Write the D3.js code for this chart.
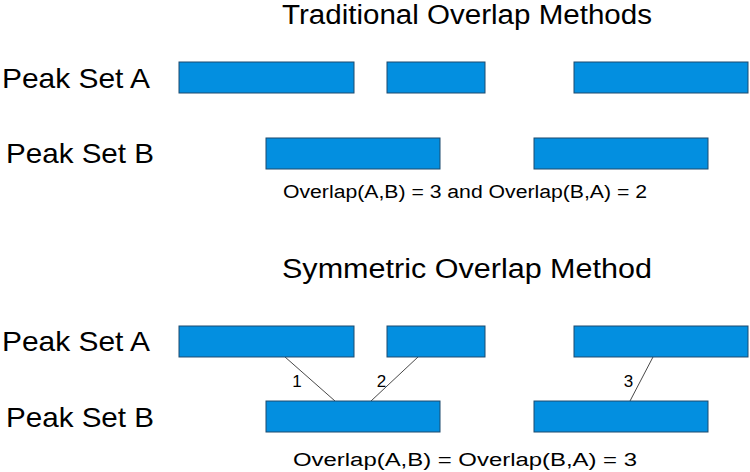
<!DOCTYPE html>
<html>
<head>
<meta charset="utf-8">
<script src="https://cdn.jsdelivr.net/npm/d3@7"></script>
<style>
  body { margin: 0; background: #fff; }
  text { font-family: "Liberation Sans", Arial, sans-serif; fill: #000; }
</style>
</head>
<body>
<div id="chart"></div>
<script>
// peak intervals (arbitrary genomic units)
const peakSetA = [[0, 175], [208, 306], [395, 569]];
const peakSetB = [[87, 261], [355, 529]];
const rowNames = ["Peak Set A", "Peak Set B"];

// symmetric overlap links: position on A bottom edge -> position on B top edge
const links = [
  {label: "1", a: 106, b: 156},
  {label: "2", a: 239, b: 192},
  {label: "3", a: 474, b: 451}
];

const sections = [
  {title: "Traditional Overlap Methods", note: "Overlap(A,B) = 3 and Overlap(B,A) = 2", links: false},
  {title: "Symmetric Overlap Method", note: "Overlap(A,B) = Overlap(B,A) = 3", links: true}
];

const width = 750, height = 472;

let svg = d3.select("#chart")
    .append("svg")
    .attr("width", width)
    .attr("height", height);

let x = d3.scaleLinear()
    .domain([0, 569])
    .range([179, 748]);

const layout = [
  {titleY: 24, rowY: d3.scaleBand().domain(rowNames).range([62, 169]).paddingInner(0.592), noteY: 198},
  {titleY: 278, rowY: d3.scaleBand().domain(rowNames).range([326, 432]).paddingInner(0.587), noteY: 466}
];

function fitText(sel, len) {
  sel.attr("textLength", len).attr("lengthAdjust", "spacingAndGlyphs");
}

sections.forEach(function(sec, i) {
  let L = layout[i];
  let y = L.rowY;
  let g = svg.append("g");

  g.append("text")
      .attr("x", 282).attr("y", L.titleY)
      .style("font-size", "27px")
      .text(sec.title)
      .call(fitText, 370);

  // row labels
  g.selectAll(".rowlabel")
      .data(rowNames)
      .enter()
      .append("text")
      .attr("x", function(d, j) { return j === 0 ? 2 : 6; })
      .attr("y", function(d) { return y(d) + y.bandwidth() / 2 + 10; })
      .style("font-size", "28px")
      .text(function(d) { return d; })
      .call(fitText, 148);

  // links (drawn under bars)
  if (sec.links) {
    let yA = y("Peak Set A") + y.bandwidth();
    let yB = y("Peak Set B");
    g.selectAll(".link")
        .data(links)
        .enter()
        .append("line")
        .attr("x1", function(d) { return x(d.a); })
        .attr("y1", yA)
        .attr("x2", function(d) { return x(d.b); })
        .attr("y2", yB)
        .attr("stroke", "#333")
        .attr("stroke-width", 0.9);
    g.selectAll(".linklabel")
        .data(links)
        .enter()
        .append("text")
        .attr("x", function(d) { return (x(d.a) + x(d.b)) / 2 - 13; })
        .attr("y", (yA + yB) / 2 + 8)
        .attr("text-anchor", "middle")
        .style("font-size", "17px")
        .text(function(d) { return d.label; });
  }

  [peakSetA, peakSetB].forEach(function(set, j) {
    g.selectAll(".bar" + j)
        .data(set)
        .enter()
        .append("rect")
        .attr("x", function(d) { return x(d[0]); })
        .attr("y", y(rowNames[j]))
        .attr("width", function(d) { return x(d[1]) - x(d[0]); })
        .attr("height", y.bandwidth())
        .attr("fill", "#038fe0")
        .attr("stroke", "#1d4a6e")
        .attr("stroke-width", 1);
  });

  g.append("text")
      .attr("x", i === 0 ? 283 : 293).attr("y", L.noteY)
      .style("font-size", "18px")
      .text(sec.note)
      .call(fitText, i === 0 ? 364 : 344);
});
</script>
</body>
</html>
